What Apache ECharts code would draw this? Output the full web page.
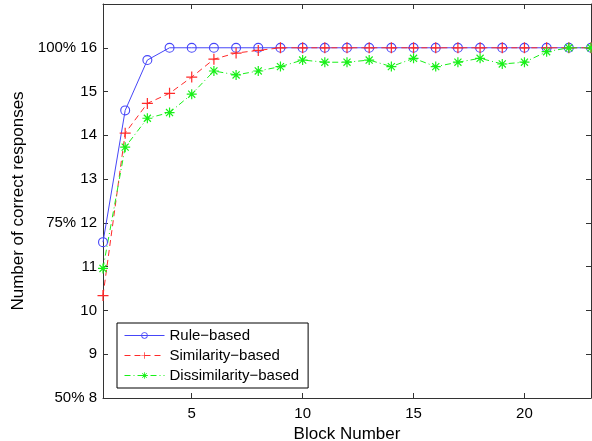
<!DOCTYPE html>
<html>
<head>
<meta charset="utf-8">
<script src="https://cdn.jsdelivr.net/npm/echarts@6.0.0/dist/echarts.min.js"></script>
<style>
  html, body { margin: 0; padding: 0; background: #fff; }
  #chart { width: 592px; height: 441px; }
</style>
</head>
<body>
<div id="chart"></div>
<script>
// block numbers 1..23
const blocks = [1, 2, 3, 4, 5, 6, 7, 8, 9, 10, 11, 12, 13, 14, 15, 16, 17, 18, 19, 20, 21, 22, 23];
const ruleBased = [11.56, 14.57, 15.72, 16, 16, 16, 16, 16, 16, 16, 16, 16, 16, 16, 16, 16, 16, 16, 16, 16, 16, 16, 16];
const similarityBased = [10.34, 14.05, 14.73, 14.96, 15.33, 15.74, 15.88, 15.94, 16, 16, 16, 16, 16, 16, 16, 16, 16, 16, 16, 16, 16, 16, 16];
const dissimilarityBased = [10.96, 13.73, 14.39, 14.52, 14.94, 15.47, 15.38, 15.47, 15.57, 15.72, 15.67, 15.67, 15.72, 15.57, 15.76, 15.57, 15.67, 15.76, 15.63, 15.67, 15.91, 16, 16];
const xTicks = [5, 10, 15, 20];
const yTicks = [8, 9, 10, 11, 12, 13, 14, 15, 16];
const yTickLabels = { 8: '50% 8', 12: '75% 12', 16: '100% 16' };

const pairs = vals => blocks.map((b, i) => [b, vals[i]]);

// thin ring, plus and asterisk markers (filled outlines)
const ringPath = 'path://M5,0A5,5,0,1,1,4.99,0ZM5,1.1A3.9,3.9,0,1,0,5.01,1.1Z';
const plusPath = 'path://M4.45,0H5.55V10H4.45ZM0,4.45H10V5.55H0Z';
const starPath = 'path://M0,4.4H10V5.6H0ZM4.4,0H5.6V10H4.4Z' +
  'M1.04,1.89L1.89,1.04L8.96,8.11L8.11,8.96Z' +
  'M8.11,1.04L8.96,1.89L1.89,8.96L1.04,8.11Z';

const font = 'Liberation Sans';
const axisColor = '#333';
const blue = '#4646f8', red = '#ff2a2a', green = '#18f018';

const chart = echarts.init(document.getElementById('chart'), null, { renderer: 'canvas' });

const frameX = (pos, labels) => ({
  type: 'value', position: pos, min: 1, max: 23,
  axisLine: { show: true, onZero: false, lineStyle: { color: axisColor, width: 1 } },
  axisTick: { show: true, inside: true, length: 5, customValues: xTicks, lineStyle: { color: axisColor } },
  axisLabel: { show: labels, customValues: xTicks, margin: 8, color: '#000', fontFamily: font, fontSize: 15 },
  splitLine: { show: false }
});
const frameY = (pos, labels) => ({
  type: 'value', position: pos, min: 8, max: 17,
  axisLine: { show: true, onZero: false, lineStyle: { color: axisColor, width: 1 } },
  axisTick: { show: true, inside: true, length: 5, customValues: yTicks, lineStyle: { color: axisColor } },
  axisLabel: {
    show: labels, customValues: yTicks, margin: 6, color: '#000', fontFamily: font, fontSize: 15,
    formatter: v => yTickLabels[v] || String(v)
  },
  splitLine: { show: false }
});

const xMain = frameX('bottom', true);
xMain.name = 'Block Number';
xMain.nameLocation = 'middle';
xMain.nameGap = 22;
xMain.nameTextStyle = { color: '#000', fontFamily: font, fontSize: 17 };
const yMain = frameY('left', true);
yMain.name = 'Number of correct responses';
yMain.nameLocation = 'middle';
yMain.nameGap = 70;
yMain.nameTextStyle = { color: '#000', fontFamily: font, fontSize: 17 };

chart.setOption({
  animation: false,
  backgroundColor: '#fff',
  grid: { left: 103, right: 1, top: 4, bottom: 43, containLabel: false, outerBoundsMode: 'none' },
  xAxis: [xMain, frameX('top', false)],
  yAxis: [yMain, frameY('right', false)],
  legend: {
    orient: 'vertical', left: 117, top: 323,
    backgroundColor: '#fff', borderColor: '#000', borderWidth: 1,
    padding: [5, 9, 5, 7], itemWidth: 40, itemHeight: 8, itemGap: 5,
    lineStyle: { width: 1 },
    textStyle: { fontFamily: font, fontSize: 15, color: '#000' },
    data: ['Rule\u2212based', 'Similarity\u2212based', 'Dissimilarity\u2212based']
  },
  series: [
    {
      name: 'Rule\u2212based', type: 'line', data: pairs(ruleBased),
      symbol: ringPath, symbolSize: 10,
      lineStyle: { color: blue, width: 1 },
      itemStyle: { color: blue, borderWidth: 0 }
    },
    {
      name: 'Similarity\u2212based', type: 'line', data: pairs(similarityBased),
      symbol: plusPath, symbolSize: 11,
      lineStyle: { color: red, width: 1, type: [6, 4] },
      itemStyle: { color: red, borderWidth: 0 }
    },
    {
      name: 'Dissimilarity\u2212based', type: 'line', data: pairs(dissimilarityBased),
      symbol: starPath, symbolSize: 10,
      lineStyle: { color: green, width: 1, type: [6, 3, 1, 3] },
      itemStyle: { color: green, borderWidth: 0 }
    }
  ]
});
</script>
</body>
</html>
